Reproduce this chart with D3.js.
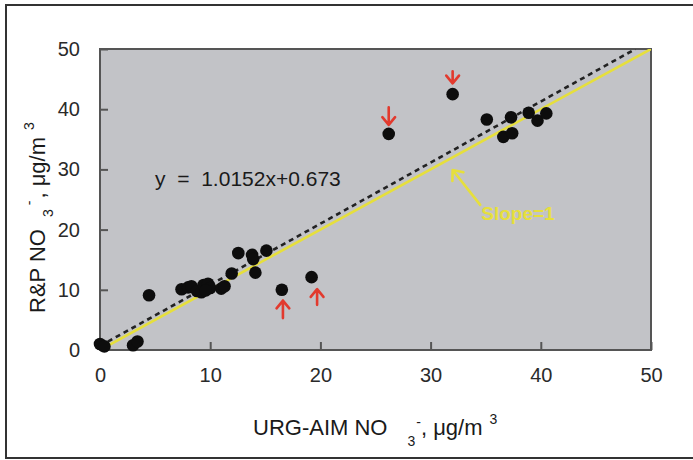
<!DOCTYPE html>
<html>
<head>
<meta charset="utf-8">
<script src="https://cdn.jsdelivr.net/npm/d3@7"></script>
<style>
  html, body { margin: 0; padding: 0; background: #fff; }
  svg { display: block; }
  text { font-family: "Liberation Sans", Arial, Helvetica, sans-serif; }
</style>
</head>
<body>
<svg id="chart" width="693" height="460"></svg>
<script>
// URG-AIM vs R&P nitrate concentrations (µg/m3)
const urgAim = [0.0, 0.4, 3.0, 3.4, 4.45, 7.4, 8.0, 8.3, 8.8, 9.2, 9.4, 9.8, 10.0, 9.6, 11.0, 11.3,
                11.95, 12.55, 13.8, 13.9, 14.1, 15.1, 16.5, 19.2,
                26.2, 32.0, 35.1, 36.6, 37.4, 37.3, 38.9, 39.7, 40.5];
const rpNo3  = [1.0, 0.6, 0.8, 1.4, 9.1, 10.1, 10.4, 10.6, 9.8, 9.6, 10.8, 11.0, 10.3, 9.9, 10.2, 10.6,
                12.7, 16.1, 15.8, 15.1, 12.85, 16.5, 10.0, 12.1,
                35.9, 42.5, 38.3, 35.4, 36.0, 38.65, 39.4, 38.1, 39.3];

const tickValues = [0, 10, 20, 30, 40, 50];

// regression fit and 1:1 reference
const fitSlope = 1.0152, fitIntercept = 0.673;
const equationLabel = "y  =  1.0152x+0.673";
const slopeLabel = "Slope=1";

// flagged outliers: x, arrow tip y, arrow tail y (data units)
const flagX    = [26.2, 32.0, 16.6, 19.7];
const flagTip  = [37.4, 44.3, 8.2, 10.1];
const flagTail = [40.3, 46.3, 5.3, 7.5];

const svg = d3.select("#chart");

// outer figure frame
svg.append("rect")
  .attr("x", 6).attr("y", 5).attr("width", 720).attr("height", 453)
  .attr("fill", "none").attr("stroke", "#333").attr("stroke-width", 2);

const plot = { left: 100, top: 49, right: 651, bottom: 350 };
const x = d3.scaleLinear().domain([0, 50]).range([plot.left, plot.right]);
const y = d3.scaleLinear().domain([0, 50]).range([plot.bottom, plot.top]);

// panel background
svg.append("rect")
  .attr("x", plot.left).attr("y", plot.top)
  .attr("width", plot.right - plot.left).attr("height", plot.bottom - plot.top)
  .attr("fill", "#c2c3c7");

svg.append("clipPath").attr("id", "clip")
  .append("rect")
  .attr("x", plot.left).attr("y", plot.top)
  .attr("width", plot.right - plot.left).attr("height", plot.bottom - plot.top);

const axisColor = "#555";
const xAxis = d3.axisBottom(x).tickValues(tickValues).tickSizeInner(-8).tickSizeOuter(0).tickPadding(18);
const yAxis = d3.axisLeft(y).tickValues(tickValues).tickSizeInner(-8).tickSizeOuter(0).tickPadding(20);

const gx = svg.append("g").attr("transform", `translate(0,${plot.bottom})`).call(xAxis);
const gy = svg.append("g").attr("transform", `translate(${plot.left},0)`).call(yAxis);
[gx, gy].forEach(a => {
  a.select(".domain").remove();
  a.selectAll(".tick line").attr("stroke", axisColor).attr("stroke-width", 2);
  a.selectAll(".tick text")
    .attr("fill", "#2a2a2a")
    .style("font-size", "20px")
    .style("font-family", '"Liberation Sans", Arial, sans-serif');
});

// panel border
svg.append("rect")
  .attr("x", plot.left).attr("y", plot.top)
  .attr("width", plot.right - plot.left).attr("height", plot.bottom - plot.top)
  .attr("fill", "none").attr("stroke", axisColor).attr("stroke-width", 2);

const g = svg.append("g").attr("clip-path", "url(#clip)");

// 1:1 line
const yellow = "#e6df3c";
g.append("line")
  .attr("x1", x(0)).attr("y1", y(0)).attr("x2", x(50)).attr("y2", y(50))
  .attr("stroke", yellow).attr("stroke-width", 2.6);

// regression line (dashed), ends where it meets the top of the panel
const fitEndX = (50 - fitIntercept) / fitSlope;
g.append("line")
  .attr("x1", x(0)).attr("y1", y(fitIntercept))
  .attr("x2", x(fitEndX)).attr("y2", y(fitSlope * fitEndX + fitIntercept))
  .attr("stroke", "#222").attr("stroke-width", 2.6)
  .attr("stroke-dasharray", "5,4");

// data points (not clipped, so markers on the axes stay whole)
svg.append("g").selectAll("circle.pt")
  .data(urgAim.map((v, i) => [v, rpNo3[i]]))
  .join("circle")
  .attr("class", "pt")
  .attr("cx", d => x(d[0])).attr("cy", d => y(d[1]))
  .attr("r", 6.3)
  .attr("fill", "#0d0d0d");

// regression equation
svg.append("text")
  .attr("x", x(5.0)).attr("y", y(27.2))
  .attr("fill", "#1a1a1a").style("font-size", "21px")
  .attr("xml:space", "preserve")
  .text(equationLabel);

// slope label and pointer
svg.append("text")
  .attr("x", x(34.6)).attr("y", y(21.6))
  .attr("fill", yellow).style("font-size", "19px").style("font-weight", "bold")
  .text(slopeLabel);

function arrow(x1, y1, x2, y2, color, head) {
  const ang = Math.atan2(y2 - y1, x2 - x1);
  const a1 = ang + Math.PI * 0.78, a2 = ang - Math.PI * 0.78;
  const p = d3.path();
  p.moveTo(x1, y1); p.lineTo(x2, y2);
  p.moveTo(x2 + head * Math.cos(a1), y2 + head * Math.sin(a1));
  p.lineTo(x2, y2);
  p.lineTo(x2 + head * Math.cos(a2), y2 + head * Math.sin(a2));
  svg.append("path").attr("d", p.toString())
    .attr("fill", "none").attr("stroke", color).attr("stroke-width", 2.6)
    .attr("stroke-linecap", "round").attr("stroke-linejoin", "round");
}

arrow(x(34.5), y(24.1), x(32.0), y(29.9), yellow, 11);

// red markers on flagged samples
flagX.forEach((fx, i) => {
  arrow(x(fx), y(flagTail[i]), x(fx), y(flagTip[i]), "#e23a2e", 10);
});

// axis titles
const titleColor = "#1a1a1a";
const xt = svg.append("text")
  .attr("x", 253).attr("y", 435)
  .attr("fill", titleColor).style("font-size", "22px");
xt.append("tspan").text("URG-AIM NO");
xt.append("tspan").attr("dx", 20).attr("dy", 11).style("font-size", "14px").text("3");
xt.append("tspan").attr("dx", 1).attr("dy", -19).style("font-size", "14px").text("-");
xt.append("tspan").attr("dy", 8).text(", μg/m");
xt.append("tspan").attr("dx", 7).attr("dy", -11).style("font-size", "14px").text("3");

const yt = svg.append("text")
  .attr("transform", "translate(45,313) rotate(-90)")
  .attr("fill", titleColor).style("font-size", "22px");
yt.append("tspan").text("R&P NO");
yt.append("tspan").attr("dx", 12).attr("dy", 8).style("font-size", "14px").text("3");
yt.append("tspan").attr("dx", 4).attr("dy", -19).style("font-size", "14px").text("-");
yt.append("tspan").attr("dx", 2).attr("dy", 11).text(", μg/m");
yt.append("tspan").attr("dx", 7).attr("dy", -11).style("font-size", "14px").text("3");
</script>
</body>
</html>
